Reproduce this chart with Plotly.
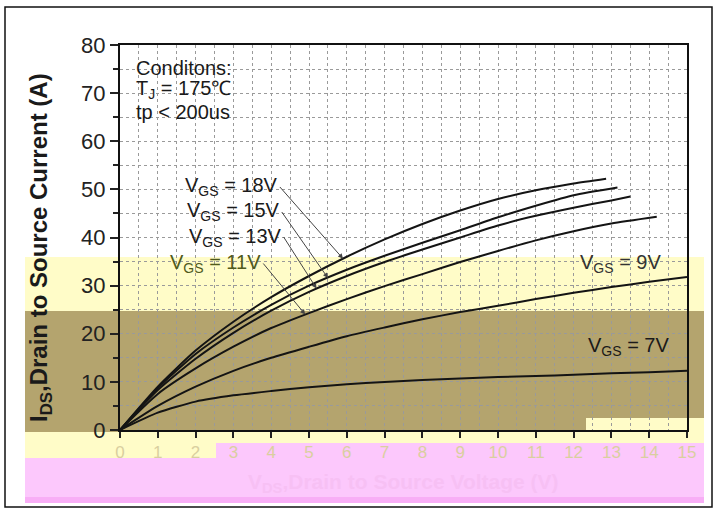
import plotly.graph_objects as go

# ---------------- data ----------------
vds_18 = [0, 1, 2, 3, 4, 5, 6, 7, 8, 9, 10, 11, 12, 12.86]
ids_18 = [0, 9.0, 16.5, 22.5, 27.6, 32.0, 36.0, 39.6, 42.8, 45.6, 48.0, 49.8, 51.2, 52.2]

vds_15 = [0, 1, 2, 3, 4, 5, 6, 7, 8, 9, 10, 11, 12, 13.16]
ids_15 = [0, 8.7, 15.8, 21.3, 26.0, 30.0, 33.3, 36.2, 38.9, 41.5, 44.2, 46.6, 48.8, 50.4]

vds_13 = [0, 1, 2, 3, 4, 5, 6, 7, 8, 9, 10, 11, 12, 13, 13.5]
ids_13 = [0, 8.3, 14.8, 20.2, 24.8, 28.7, 32.0, 34.9, 37.5, 40.0, 42.5, 44.5, 46.2, 47.7, 48.5]

vds_11 = [0, 1, 2, 3, 4, 5, 6, 7, 8, 9, 10, 11, 12, 13, 14.2]
ids_11 = [0, 7.5, 12.8, 17.3, 21.2, 24.3, 27.2, 29.9, 32.4, 34.9, 37.2, 39.4, 41.3, 42.9, 44.3]

vds_9 = [0, 1, 2, 3, 4, 5, 6, 7, 8, 9, 10, 11, 12, 13, 14, 15]
ids_9 = [0, 5.0, 9.0, 12.3, 15.0, 17.3, 19.5, 21.3, 23.0, 24.5, 25.8, 27.2, 28.5, 29.7, 30.8, 31.8]

vds_7 = [0, 1, 2, 3, 4, 5, 6, 7, 8, 9, 10, 11, 12, 13, 14, 15]
ids_7 = [0, 3.6, 5.9, 7.2, 8.1, 8.9, 9.5, 10.0, 10.4, 10.7, 11.0, 11.2, 11.5, 11.8, 12.0, 12.3]

series = [
    ("18V", vds_18, ids_18),
    ("15V", vds_15, ids_15),
    ("13V", vds_13, ids_13),
    ("11V", vds_11, ids_11),
    ("9V", vds_9, ids_9),
    ("7V", vds_7, ids_7),
]

x_ticks = list(range(0, 16))
y_ticks = list(range(0, 90, 10))

conditions = ["Conditons:", "T<sub>J</sub> = 175\u2103", "tp < 200us"]

# ---------------- figure ----------------
W, H = 716, 511
L, R, T, B = 120, 29, 45, 81
PW, PH = W - L - R, H - T - B


def px(xp):
    return (xp - L) / PW


def py(yp):
    return (H - B - yp) / PH


fig = go.Figure()
for name, xs, ys in series:
    fig.add_trace(go.Scatter(x=xs, y=ys, mode="lines", name="VGS = " + name,
                             line=dict(color="#141414", width=2, shape="spline", smoothing=0.6),
                             showlegend=False, hoverinfo="x+y"))

FONT = "Arial, Liberation Sans, Helvetica, sans-serif"
grid = dict(showgrid=True, gridcolor="#9a9a9a", gridwidth=1, griddash="dot")

fig.update_layout(
    width=W, height=H,
    margin=dict(l=L, r=R, t=T, b=B),
    paper_bgcolor="white",
    plot_bgcolor="rgba(0,0,0,0)",
    font=dict(family=FONT, color="#1a1a1a"),
    xaxis=dict(range=[0, 15], tickvals=x_ticks, ticks="outside", ticklen=6, tickwidth=1.5,
               tickcolor="#222", showline=True, linecolor="#111", linewidth=2, mirror=True,
               tickfont=dict(size=17, color="#d9cf9f"), zeroline=False,
               minor=dict(dtick=0.5, showgrid=True, gridcolor="#9a9a9a", griddash="dot", ticks=""),
               **grid),
    yaxis=dict(range=[0, 80], tickvals=y_ticks, ticks="outside", ticklen=8, tickwidth=1.5,
               tickcolor="#222", showline=True, linecolor="#111", linewidth=2, mirror=True,
               tickfont=dict(size=22, color="#222"), zeroline=False,
               minor=dict(dtick=5, showgrid=True, gridcolor="#9a9a9a", griddash="dot",
                          ticks="outside", ticklen=5, tickcolor="#222"),
               **grid),
)

# background colour bands seen in the reference picture
bands = [
    (25, 704, 257, 311, "#fffcc8"),
    (25, 704, 311, 432, "#b4a46e"),
    (586, 704, 418, 432, "#fffcc8"),
    (25, 704, 432, 443, "#fffcc8"),
    (25, 704, 443, 503, "#fcc8fc"),
    (25, 704, 497, 503, "#f8aef6"),
    (25, 216, 443, 458, "#fffcc8"),
]
for x0, x1, y0, y1, c in bands:
    fig.add_shape(type="rect", xref="paper", yref="paper",
                  x0=px(x0), x1=px(x1), y0=py(y1), y1=py(y0),
                  fillcolor=c, line=dict(width=0), layer="below")

# outer frame
fig.add_shape(type="rect", xref="paper", yref="paper",
              x0=px(5), x1=px(712), y0=py(507), y1=py(7),
              line=dict(color="#111", width=1.5), fillcolor="rgba(0,0,0,0)", layer="above")

# y-axis title
fig.add_annotation(xref="paper", yref="paper", x=px(40), y=py(248), textangle=-90,
                   xanchor="center", yanchor="middle",
                   text="<b>I<sub>DS</sub>,Drain to Source Current (A)</b>",
                   showarrow=False, font=dict(size=24, color="#1a1a1a", family=FONT))
# x-axis title (barely visible in the reference)
fig.add_annotation(xref="paper", yref="paper", x=px(403), y=py(483),
                   xanchor="center", yanchor="middle",
                   text="<b>V<sub>DS</sub>,Drain to Source Voltage (V)</b>",
                   showarrow=False, font=dict(size=21, color="#f7c0f4", family=FONT))

# conditions block
for i, line in enumerate(conditions):
    fig.add_annotation(x=0.36, y=75.3 - 4.6 * i, xanchor="left", yanchor="middle",
                       text=line, showarrow=False, font=dict(size=20, family=FONT, color="#1a1a1a"))

# VGS labels with arrows (tail at label end, head on curve)
arrow_labels = [
    ("V<sub>GS</sub> = 18V", 4.23, 50.5, 5.9, 35.6, "#1a1a1a"),
    ("V<sub>GS</sub> = 15V", 4.28, 45.3, 5.5, 31.6, "#1a1a1a"),
    ("V<sub>GS</sub> = 13V", 4.33, 40.1, 5.2, 29.4, "#1a1a1a"),
    ("V<sub>GS</sub> = 11V", 3.79, 34.6, 4.9, 24.0, "#4f5a1c"),
]
for txt, ax, ay, xh, yh, col in arrow_labels:
    fig.add_annotation(x=xh, y=yh, ax=ax, ay=ay, axref="x", ayref="y",
                       xanchor="right", yanchor="middle", text=txt,
                       showarrow=True, arrowhead=2, arrowsize=1, arrowwidth=1,
                       arrowcolor="#444", font=dict(size=20, family=FONT, color=col))

fig.add_annotation(x=13.23, y=34.6, text="V<sub>GS</sub> = 9V", showarrow=False,
                   font=dict(size=20, family=FONT, color="#333"))
fig.add_annotation(x=13.45, y=17.3, text="V<sub>GS</sub> = 7V", showarrow=False,
                   font=dict(size=20, family=FONT, color="#1a1a1a"))

fig.write_html("out.html", config={"displayModeBar": False},
               post_script="document.body.style.margin='0';")
